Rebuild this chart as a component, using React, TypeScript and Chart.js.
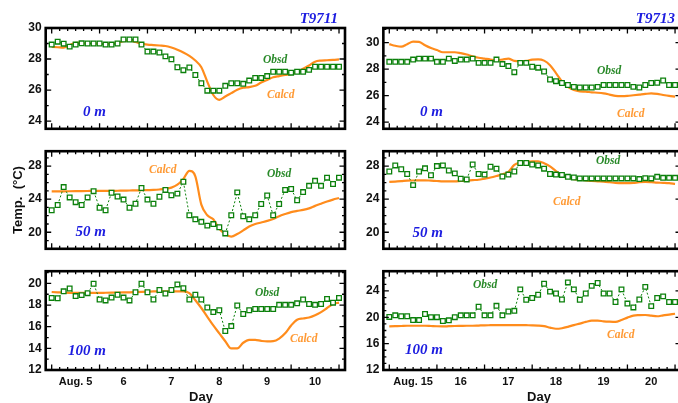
import React, { useEffect, useRef } from "react";
import { Chart, registerables } from "chart.js";

Chart.register(...registerables);

// ---------- data ----------
const SAMPLE_STEP_DAYS = 0.125; // 3-hourly samples
const startT9711 = 5; // Aug 5, 00:00
const startT9713 = 15; // Aug 15, 00:00

const dayLabelsT9711 = ["Aug. 5", "6", "7", "8", "9", "10"];
const dayLabelsT9713 = ["Aug. 15", "16", "17", "18", "19", "20"];

const obsd0mT9711 = [28.93, 29.12, 28.99, 28.8, 28.93, 29.01, 29.0, 29.0, 29.0, 28.93, 28.93, 29.0, 29.26, 29.26, 29.26, 28.93, 28.48, 28.48, 28.42, 28.17, 27.98, 27.47, 27.28, 27.45, 26.97, 26.44, 25.96, 25.96, 25.96, 26.27, 26.44, 26.44, 26.4, 26.61, 26.78, 26.78, 26.9, 27.18, 27.18, 27.18, 27.12, 27.18, 27.18, 27.3, 27.5, 27.5, 27.5, 27.5, 27.5];
const calcd0mT9711 = [28.78, 28.76, 28.74, 28.9, 29.05, 29.03, 29.0, 29.0, 28.98, 28.98, 29.0, 29.05, 29.15, 29.2, 29.1, 28.99, 28.93, 28.9, 28.87, 28.84, 28.74, 28.6, 28.42, 28.2, 27.9, 27.47, 26.53, 25.68, 25.37, 25.58, 25.8, 26.02, 26.15, 26.19, 26.27, 26.48, 26.65, 26.82, 26.9, 26.97, 27.03, 27.15, 27.37, 27.58, 27.83, 27.9, 27.92, 27.94, 27.98];

const obsd0mT9713 = [28.55, 28.55, 28.55, 28.55, 28.72, 28.79, 28.79, 28.79, 28.55, 28.55, 28.79, 28.62, 28.72, 28.72, 28.79, 28.47, 28.47, 28.47, 28.72, 28.38, 28.23, 27.77, 28.47, 28.47, 28.18, 28.11, 27.82, 27.22, 27.09, 26.95, 26.8, 26.66, 26.61, 26.61, 26.61, 26.66, 26.8, 26.8, 26.8, 26.8, 26.8, 26.66, 26.61, 26.8, 26.95, 26.97, 27.14, 26.8, 26.8];
const calcd0mT9713 = [29.88, 29.76, 29.69, 29.88, 30.07, 30.05, 29.8, 29.59, 29.44, 29.27, 29.27, 29.27, 29.2, 29.1, 28.96, 28.86, 28.79, 28.72, 28.67, 28.72, 28.79, 28.62, 28.6, 28.62, 28.72, 28.74, 28.64, 28.3, 27.7, 27.09, 26.66, 26.42, 26.32, 26.3, 26.25, 26.22, 26.17, 26.08, 25.98, 25.96, 25.98, 26.03, 26.08, 26.13, 26.17, 26.13, 26.05, 25.98, 25.93];

const obsd50mT9711 = [22.66, 23.3, 25.46, 24.21, 23.64, 23.3, 24.21, 24.97, 22.96, 22.66, 24.78, 24.33, 23.95, 22.96, 23.45, 25.35, 23.95, 23.45, 24.29, 25.12, 24.48, 24.67, 26.1, 22.05, 21.56, 21.26, 20.8, 20.99, 20.61, 19.86, 22.05, 24.82, 21.94, 21.56, 22.05, 23.42, 24.44, 22.05, 23.42, 25.12, 25.23, 23.87, 24.86, 25.61, 26.22, 25.61, 26.6, 25.84, 26.6];
const calcd50mT9711 = [24.95, 24.95, 24.95, 24.96, 24.97, 24.98, 24.99, 25.0, 25.0, 25.0, 25.0, 25.02, 25.03, 25.05, 25.06, 25.08, 25.1, 25.12, 25.17, 25.25, 25.4, 25.75, 26.45, 27.43, 26.75, 23.34, 22.05, 21.56, 20.42, 19.78, 19.48, 19.78, 20.23, 20.69, 20.99, 21.18, 21.37, 21.6, 21.94, 22.2, 22.43, 22.58, 22.7, 22.89, 23.19, 23.45, 23.72, 23.95, 24.14];

const obsd50mT9713 = [27.35, 28.08, 27.62, 27.04, 25.7, 27.35, 27.73, 26.89, 28.0, 28.08, 27.46, 27.12, 26.47, 26.39, 28.19, 27.04, 26.97, 27.92, 27.69, 26.74, 26.97, 27.35, 28.38, 28.38, 28.19, 28.08, 27.69, 27.04, 26.97, 26.93, 26.7, 26.62, 26.51, 26.51, 26.51, 26.51, 26.51, 26.51, 26.51, 26.51, 26.51, 26.51, 26.43, 26.54, 26.51, 26.7, 26.58, 26.58, 26.58];
const calcd50mT9713 = [26.08, 26.13, 26.18, 26.24, 26.26, 26.27, 26.28, 26.24, 26.2, 26.16, 26.16, 26.16, 26.2, 26.24, 26.3, 26.35, 26.48, 26.62, 26.8, 27.0, 27.31, 28.15, 28.42, 28.5, 28.57, 28.57, 28.34, 27.96, 27.39, 26.93, 26.62, 26.43, 26.35, 26.28, 26.2, 26.16, 26.12, 26.05, 25.97, 25.93, 25.93, 25.97, 26.05, 26.08, 26.05, 26.0, 25.97, 25.93, 25.85];

const obsd100mT9711 = [18.66, 18.63, 19.27, 19.53, 18.83, 18.92, 19.1, 19.97, 18.51, 18.43, 18.69, 18.95, 18.69, 18.43, 19.18, 19.97, 19.18, 18.51, 19.39, 19.07, 19.39, 19.91, 19.56, 18.51, 18.95, 18.51, 17.78, 17.35, 17.52, 15.6, 16.06, 17.96, 17.17, 17.52, 17.64, 17.64, 17.64, 17.64, 18.02, 18.02, 18.02, 18.16, 18.51, 18.1, 18.02, 18.1, 18.57, 18.22, 18.66];
const calcd100mT9711 = [19.21, 19.18, 19.15, 19.13, 19.13, 19.13, 19.13, 19.13, 19.13, 19.14, 19.15, 19.16, 19.17, 19.18, 19.2, 19.22, 19.24, 19.26, 19.27, 19.27, 19.27, 19.27, 19.27, 19.1, 18.45, 17.73, 16.91, 16.12, 15.39, 14.66, 13.99, 13.99, 14.52, 14.78, 14.78, 14.69, 14.64, 14.66, 14.9, 15.39, 16.12, 16.65, 16.76, 16.85, 17.06, 17.35, 17.73, 18.1, 18.22];

const obsd100mT9713 = [20.06, 20.3, 20.16, 20.16, 19.58, 19.58, 20.5, 20.02, 20.02, 19.44, 19.54, 20.02, 20.3, 20.3, 20.3, 21.6, 20.3, 20.3, 21.74, 20.3, 20.88, 20.98, 24.24, 22.66, 22.94, 23.42, 25.1, 23.9, 23.62, 22.7, 25.3, 24.24, 22.66, 23.62, 24.77, 25.2, 23.62, 23.62, 22.32, 24.24, 22.08, 21.5, 22.7, 24.62, 21.7, 22.94, 23.18, 22.32, 22.32];
const calcd100mT9713 = [18.62, 18.65, 18.68, 18.72, 18.72, 18.72, 18.72, 18.68, 18.64, 18.62, 18.65, 18.68, 18.7, 18.72, 18.72, 18.75, 18.78, 18.8, 18.82, 18.82, 18.82, 18.82, 18.82, 18.8, 18.78, 18.74, 18.65, 18.43, 18.26, 18.34, 18.55, 18.82, 19.05, 19.3, 19.5, 19.5, 19.39, 19.33, 19.3, 19.6, 19.95, 20.26, 20.33, 20.35, 20.25, 20.16, 20.3, 20.42, 20.54];

const yTicks0mT9711 = [24, 26, 28, 30];
const yTicks0mT9713 = [24, 26, 28, 30];
const yTicks50m = [20, 24, 28];
const yTicks100mT9711 = [12, 14, 16, 18, 20];
const yTicks100mT9713 = [12, 16, 20, 24];

// ---------- style ----------
const GREEN = "#0b800b";
const ORANGE = "#ff8c1c";
const ORANGE_TEXT = "#ff9a35";
const GREEN_TEXT = "#2a8a2a";
const BLUE = "#1c1ce0";
const SANS = "'Liberation Sans', Arial, sans-serif";
const SERIF = "'Liberation Serif', 'Times New Roman', serif";

type Txt = { t: string; x: number; y: number; color: string; font: string; align: CanvasTextAlign; rot?: boolean };

const depthFont = `italic bold 15px ${SERIF}`;
const seriesFont = `italic bold 11.5px ${SERIF}`;
const stationFont = `italic bold 15px ${SERIF}`;
const axisTitleFont = `bold 13px ${SANS}`;

const COLS = [
  { left: 0, w: 350, yW: 45.7, padR: 5, start: startT9711, dayLabels: dayLabelsT9711 },
  { left: 350, w: 340, yW: 33.35, padR: 9, start: startT9713, dayLabels: dayLabelsT9713 },
];
const ROWS = [
  { top: 0, h: 140, padT: 28, padB: 7, showX: false },
  { top: 140, h: 120, padT: 9, padB: 7.5, showX: false },
  { top: 260, h: 143, padT: 6, padB: 0, showX: true, xH: 33 },
];

const PANELS = [
  {
    col: 0, row: 0, obs: obsd0mT9711, calc: calcd0mT9711, yMin: 23.5, yMax: 30, yTicks: yTicks0mT9711,
    texts: [
      { t: "T9711", x: 338, y: 23, color: BLUE, font: stationFont, align: "right" },
      { t: "0 m", x: 106, y: 116, color: BLUE, font: depthFont, align: "right" },
      { t: "Obsd", x: 263, y: 63, color: GREEN_TEXT, font: seriesFont, align: "left" },
      { t: "Calcd", x: 267, y: 98, color: ORANGE_TEXT, font: seriesFont, align: "left" },
    ] as Txt[],
  },
  {
    col: 1, row: 0, obs: obsd0mT9713, calc: calcd0mT9713, yMin: 23.5, yMax: 31.1, yTicks: yTicks0mT9713,
    texts: [
      { t: "T9713", x: 675, y: 23, color: BLUE, font: stationFont, align: "right" },
      { t: "0 m", x: 443, y: 116, color: BLUE, font: depthFont, align: "right" },
      { t: "Obsd", x: 597, y: 74, color: GREEN_TEXT, font: seriesFont, align: "left" },
      { t: "Calcd", x: 617, y: 117, color: ORANGE_TEXT, font: seriesFont, align: "left" },
    ] as Txt[],
  },
  {
    col: 0, row: 1, obs: obsd50mT9711, calc: calcd50mT9711, yMin: 18, yMax: 29.8, yTicks: yTicks50m,
    texts: [
      { t: "50 m", x: 106, y: 236, color: BLUE, font: depthFont, align: "right" },
      { t: "Calcd", x: 149, y: 173, color: ORANGE_TEXT, font: seriesFont, align: "left" },
      { t: "Obsd", x: 267, y: 177, color: GREEN_TEXT, font: seriesFont, align: "left" },
      { t: "Temp.  (°C)", x: 18.5, y: 200, color: "#111", font: axisTitleFont, align: "center", rot: true },
    ] as Txt[],
  },
  {
    col: 1, row: 1, obs: obsd50mT9713, calc: calcd50mT9713, yMin: 18, yMax: 29.8, yTicks: yTicks50m,
    texts: [
      { t: "50 m", x: 443, y: 237, color: BLUE, font: depthFont, align: "right" },
      { t: "Obsd", x: 596, y: 164, color: GREEN_TEXT, font: seriesFont, align: "left" },
      { t: "Calcd", x: 553, y: 205, color: ORANGE_TEXT, font: seriesFont, align: "left" },
    ] as Txt[],
  },
  {
    col: 0, row: 2, obs: obsd100mT9711, calc: calcd100mT9711, yMin: 12, yMax: 21.13, yTicks: yTicks100mT9711,
    texts: [
      { t: "100 m", x: 106, y: 355, color: BLUE, font: depthFont, align: "right" },
      { t: "Obsd", x: 255, y: 296, color: GREEN_TEXT, font: seriesFont, align: "left" },
      { t: "Calcd", x: 290, y: 342, color: ORANGE_TEXT, font: seriesFont, align: "left" },
      { t: "Day", x: 201, y: 401, color: "#111", font: axisTitleFont, align: "center" },
    ] as Txt[],
  },
  {
    col: 1, row: 2, obs: obsd100mT9713, calc: calcd100mT9713, yMin: 12, yMax: 27, yTicks: yTicks100mT9713,
    texts: [
      { t: "100 m", x: 443, y: 354, color: BLUE, font: depthFont, align: "right" },
      { t: "Obsd", x: 473, y: 288, color: GREEN_TEXT, font: seriesFont, align: "left" },
      { t: "Calcd", x: 607, y: 338, color: ORANGE_TEXT, font: seriesFont, align: "left" },
      { t: "Day", x: 539, y: 401, color: "#111", font: axisTitleFont, align: "center" },
    ] as Txt[],
  },
];

function Panel({ p }: { p: (typeof PANELS)[number] }) {
  const ref = useRef<HTMLCanvasElement>(null);
  const col = COLS[p.col];
  const row = ROWS[p.row];

  useEffect(() => {
    if (!ref.current) return;
    const xs = p.obs.map((_, i) => col.start + i * SAMPLE_STEP_DAYS);
    const xMin = col.start - SAMPLE_STEP_DAYS;
    const xMax = col.start + 6 + SAMPLE_STEP_DAYS;

    const framePlugin = {
      id: "frame",
      afterDraw(chart: any) {
        const { ctx, chartArea: a, scales } = chart;
        const xs_ = scales.x;
        const ys_ = scales.y;
        ctx.save();
        ctx.strokeStyle = "#000";
        ctx.lineWidth = 1.3;
        ctx.beginPath();
        // x ticks every 4 hours, majors at day boundaries
        for (let k = Math.ceil(xMin * 6); k <= Math.floor(xMax * 6); k++) {
          const v = k / 6;
          const px = xs_.getPixelForValue(v);
          const len = k % 6 === 0 ? 5.5 : 3;
          ctx.moveTo(px, a.bottom);
          ctx.lineTo(px, a.bottom - len);
          ctx.moveTo(px, a.top);
          ctx.lineTo(px, a.top + len);
        }
        // y ticks every 1 unit, majors at labels
        for (let v = Math.ceil(p.yMin); v <= Math.floor(p.yMax); v++) {
          const py = ys_.getPixelForValue(v);
          const len = p.yTicks.includes(v) ? 5.5 : 3;
          ctx.moveTo(a.left, py);
          ctx.lineTo(a.left + len, py);
          ctx.moveTo(a.right, py);
          ctx.lineTo(a.right - len, py);
        }
        ctx.stroke();
        ctx.lineWidth = 2.6;
        ctx.strokeRect(a.left, a.top, a.right - a.left, a.bottom - a.top);

        for (const t of p.texts) {
          const lx = t.x - col.left;
          const ly = t.y - row.top;
          ctx.fillStyle = t.color;
          ctx.font = t.font;
          ctx.textAlign = t.align;
          if (t.rot) {
            ctx.save();
            ctx.translate(lx, ly);
            ctx.rotate(-Math.PI / 2);
            ctx.textBaseline = "middle";
            ctx.fillText(t.t, 0, 0);
            ctx.restore();
          } else {
            ctx.textBaseline = "alphabetic";
            ctx.fillText(t.t, lx, ly);
          }
        }
        ctx.restore();
      },
    };

    const chart = new Chart(ref.current, {
      type: "line",
      data: {
        datasets: [
          {
            label: "Obsd",
            data: p.obs.map((v, i) => ({ x: xs[i], y: v })),
            borderColor: GREEN,
            borderWidth: 1,
            borderDash: [2, 2],
            pointStyle: "rect",
            pointRadius: 3.3,
            pointBorderWidth: 1.3,
            pointBackgroundColor: "#fff",
            pointBorderColor: GREEN,
            tension: 0,
            order: 0,
          },
          {
            label: "Calcd",
            data: p.calc.map((v, i) => ({ x: xs[i], y: v })),
            borderColor: ORANGE,
            borderWidth: 2.2,
            pointRadius: 0,
            cubicInterpolationMode: "monotone",
            order: 1,
          },
        ],
      },
      options: {
        animation: false,
        responsive: false,
        devicePixelRatio: 1,
        layout: {
          autoPadding: false,
          padding: { left: 0, right: col.padR, top: row.padT, bottom: row.padB },
        },
        plugins: { legend: { display: false }, tooltip: { enabled: false } },
        scales: {
          x: {
            type: "linear",
            min: xMin,
            max: xMax,
            display: row.showX,
            grid: { display: false, drawTicks: false },
            border: { display: false },
            afterFit: (s: any) => {
              s.height = row.xH || 0;
            },
            afterBuildTicks: (s: any) => {
              s.ticks = col.dayLabels.map((_, k) => ({ value: col.start + k + 0.5 }));
            },
            ticks: {
              autoSkip: false,
              maxRotation: 0,
              padding: 5,
              color: "#111",
              font: { family: SANS, size: 11, weight: "bold" },
              callback: (v: any) => col.dayLabels[Math.round(Number(v) - col.start - 0.5)] ?? "",
            },
          },
          y: {
            type: "linear",
            min: p.yMin,
            max: p.yMax,
            grid: { display: false, drawTicks: false },
            border: { display: false },
            afterFit: (s: any) => {
              s.width = col.yW;
            },
            afterBuildTicks: (s: any) => {
              s.ticks = p.yTicks.map((v) => ({ value: v }));
            },
            ticks: {
              padding: 4,
              color: "#111",
              font: { family: SANS, size: 12, weight: "bold" },
              callback: (v: any) => String(v),
            },
          },
        },
      } as any,
      plugins: [framePlugin],
    });
    return () => chart.destroy();
  }, []);

  return (
    <canvas
      ref={ref}
      width={col.w}
      height={row.h}
      style={{ position: "absolute", left: col.left, top: row.top, width: col.w, height: row.h }}
    />
  );
}

export default function App() {
  return (
    <div
      style={{
        position: "fixed",
        left: 0,
        top: 0,
        width: 678,
        height: 403,
        overflow: "hidden",
        background: "#fff",
      }}
    >
      {PANELS.map((p, i) => (
        <Panel key={i} p={p} />
      ))}
    </div>
  );
}
